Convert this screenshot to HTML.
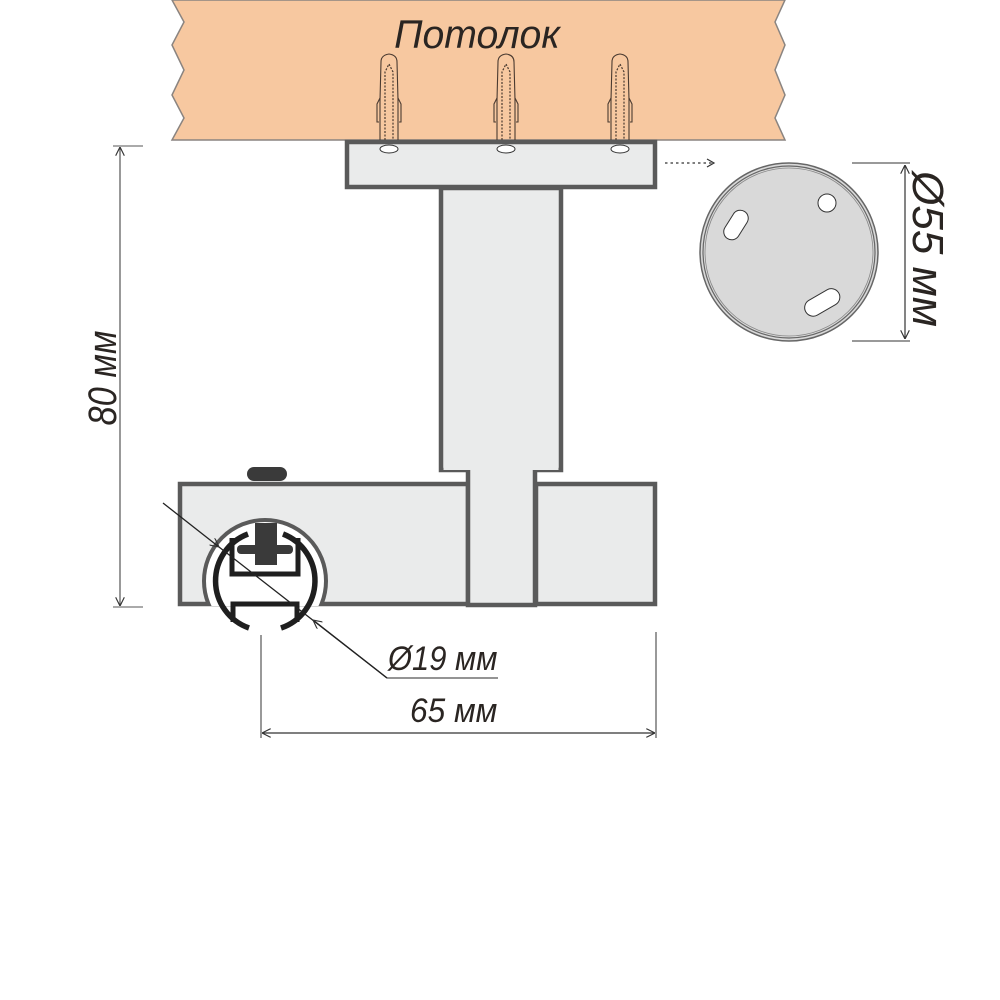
<!DOCTYPE html>
<html><head><meta charset="utf-8"><style>
html,body{margin:0;padding:0;background:#fff;}
svg{display:block;}
text{font-family:"Liberation Sans",sans-serif;font-style:italic;fill:#2a2522;}
</style></head><body>
<svg width="1000" height="1000" viewBox="0 0 1000 1000" xmlns="http://www.w3.org/2000/svg">
<defs>
<marker id="ar" viewBox="0 0 10 10" refX="10" refY="5" markerWidth="9" markerHeight="9" orient="auto-start-reverse" markerUnits="userSpaceOnUse">
<path d="M0,0 L10,5 L0,10" fill="none" stroke="#333" stroke-width="1.3"/>
</marker>
<clipPath id="topclip"><rect x="0" y="0" width="1000" height="606"/></clipPath>
<g id="screw">
<path d="M-9,140 L-9,100 L-8,62 Q-8,55 0,54 Q8,55 8,62 L9,100 L9,140" fill="none" stroke="#4a3a30" stroke-width="1.1"/>
<path d="M-9,98 L-12,104 L-12,122 L-10,122 M9,98 L12,104 L12,122 L10,122" fill="none" stroke="#4a3a30" stroke-width="1.1"/>
<path d="M-4,140 L-4,72 L0,64 L4,72 L4,140" fill="none" stroke="#4a3a30" stroke-width="1.2" stroke-dasharray="2,1.5"/>
<ellipse cx="0" cy="149" rx="9" ry="4" fill="#fff" stroke="#333" stroke-width="1"/>
</g>
</defs>

<!-- ceiling -->
<path d="M172,0 L785,0 L775,22 L785,45 L775,70 L785,95 L775,118 L785,140 L172,140 L184,118 L172,95 L184,70 L172,45 L184,22 Z" fill="#f7c8a0" stroke="#8a8480" stroke-width="1.5"/>
<text x="477" y="48" font-size="40" text-anchor="middle" transform="translate(477,0) scale(0.98,1) translate(-477,0)">Потолок</text>

<!-- mounting plate -->
<rect x="347" y="142" width="308" height="45" fill="#eaebeb" stroke="#5a5a5a" stroke-width="4.5"/>
<use href="#screw" x="389" y="0"/>
<use href="#screw" x="506" y="0"/>
<use href="#screw" x="620" y="0"/>

<!-- upper stem -->
<rect x="441" y="188" width="120" height="282" fill="#eaebeb" stroke="#5a5a5a" stroke-width="4.5"/>
<!-- lower blocks -->
<rect x="180" y="484" width="288" height="120" fill="#eaebeb" stroke="#5a5a5a" stroke-width="4.5"/>
<rect x="536" y="484" width="119" height="120" fill="#eaebeb" stroke="#5a5a5a" stroke-width="4.5"/>
<!-- narrow stem -->
<rect x="468" y="466" width="67" height="139" fill="#eaebeb" stroke="#5a5a5a" stroke-width="4.5"/>
<rect x="443.5" y="462" width="115" height="8" fill="#eaebeb"/>
<rect x="470.5" y="462" width="62" height="12" fill="#eaebeb"/>
<!-- pill -->
<rect x="247" y="467" width="40" height="14" rx="7" fill="#3a3a3a"/>

<!-- rail -->
<g clip-path="url(#topclip)">
<circle cx="265" cy="581" r="61" fill="#fff" stroke="#5a5a5a" stroke-width="4"/>
</g>
<path d="M248,534 A50,50 0 0 0 249,628" fill="none" stroke="#1f1f1f" stroke-width="5.5"/>
<path d="M283,534 A50,50 0 0 1 281,628" fill="none" stroke="#1f1f1f" stroke-width="5.5"/>
<path d="M232,538 L232,574 L298,574 L298,538" fill="none" stroke="#1f1f1f" stroke-width="5"/>
<path d="M233,622 L233,604 L297,604 L297,622" fill="none" stroke="#1f1f1f" stroke-width="5"/>
<rect x="255" y="523" width="22" height="42" fill="#3a3a3a"/>
<rect x="237" y="545" width="56" height="9" rx="4" fill="#3a3a3a"/>
<line x1="261" y1="635" x2="261" y2="738" stroke="#333" stroke-width="1"/>

<!-- Ø19 leader -->
<line x1="163" y1="503" x2="219" y2="547" stroke="#222" stroke-width="1.3" marker-end="url(#ar)"/>
<line x1="219" y1="547" x2="387" y2="678" stroke="#222" stroke-width="1.3"/>
<line x1="387" y1="678" x2="313" y2="620" stroke="#222" stroke-width="1.3" marker-end="url(#ar)"/>
<line x1="387" y1="678" x2="498" y2="678" stroke="#555" stroke-width="1.3"/>
<text x="388" y="670" font-size="34" transform="translate(388,0) scale(0.91,1) translate(-388,0)">Ø19 мм</text>

<!-- 65 mm -->
<line x1="656" y1="632" x2="656" y2="738" stroke="#333" stroke-width="1"/>
<line x1="262" y1="733" x2="655" y2="733" stroke="#333" stroke-width="1.2" marker-start="url(#ar)" marker-end="url(#ar)"/>
<text x="410" y="722" font-size="34" transform="translate(410,0) scale(0.93,1) translate(-410,0)">65 мм</text>

<!-- 80 mm -->
<line x1="113" y1="146" x2="143" y2="146" stroke="#555" stroke-width="1"/>
<line x1="113" y1="607" x2="143" y2="607" stroke="#555" stroke-width="1"/>
<line x1="120" y1="147" x2="120" y2="606" stroke="#555" stroke-width="1.2" marker-start="url(#ar)" marker-end="url(#ar)"/>
<text x="0" y="0" font-size="40" text-anchor="middle" transform="translate(116,378) rotate(-90) scale(0.86,1)">80 мм</text>

<!-- dotted arrow -->
<line x1="665" y1="163" x2="712" y2="163" stroke="#333" stroke-width="1.2" stroke-dasharray="2.5,3"/>
<path d="M707,159 L714,163 L707,167" fill="none" stroke="#333" stroke-width="1.2"/>

<!-- disc -->
<circle cx="789" cy="252" r="89" fill="#d9d9d9" stroke="#666" stroke-width="1.5"/>
<circle cx="789" cy="252" r="86" fill="none" stroke="#666" stroke-width="1.2"/>
<circle cx="789" cy="252" r="84" fill="none" stroke="#888" stroke-width="0.8"/>
<circle cx="827" cy="203" r="9" fill="#fff" stroke="#333" stroke-width="1"/>
<rect x="720" y="217" width="32" height="16" rx="8" fill="#fff" stroke="#333" stroke-width="1" transform="rotate(-58 736 225)"/>
<rect x="803" y="294" width="38" height="17" rx="8.5" fill="#fff" stroke="#333" stroke-width="1" transform="rotate(-30 822 302)"/>

<!-- 55 mm -->
<line x1="852" y1="163" x2="910" y2="163" stroke="#333" stroke-width="1"/>
<line x1="852" y1="341" x2="910" y2="341" stroke="#333" stroke-width="1"/>
<line x1="905" y1="165" x2="905" y2="339" stroke="#333" stroke-width="1.2" marker-start="url(#ar)" marker-end="url(#ar)"/>
<text x="0" y="0" font-size="44" text-anchor="middle" transform="translate(913,249) rotate(90) scale(1.0,1)">Ø55 мм</text>
</svg>
</body></html>
